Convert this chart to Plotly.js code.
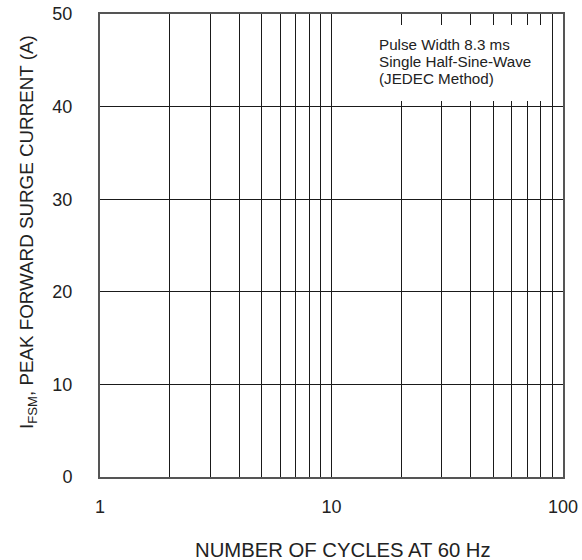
<!DOCTYPE html>
<html><head><meta charset="utf-8">
<script src="https://cdn.plot.ly/plotly-3.0.1.min.js"></script>
<style>html,body{margin:0;padding:0;background:#fff}</style>
</head><body><div id="c" style="width:582px;height:560px"></div>
<script>
const xTickVals = [1,10,100];
const xTickText = ['1','10','100'];
const xMinorVals = [2,3,4,5,6,7,8,9,20,30,40,50,60,70,80,90];
const yTickVals = [0,10,20,30,40,50];
const xRange = [1,100];
const yRange = [0,50];
const noteLines = ['Pulse Width 8.3 ms','Single Half-Sine-Wave','(JEDEC Method)'];
const xTitle = 'NUMBER OF CYCLES AT 60 Hz';
const yTitle = 'I<sub>FSM</sub>, PEAK FORWARD SURGE CURRENT (A)';

const FAM = 'Liberation Sans, Arial, sans-serif';
const INK = '#222';
const L = 100, R = 563, T = 14, B = 477, W = 582, H = 560;
const px = v => (v - L) / (R - L);
const py = v => (B - v) / (B - T);

const noteY = [44, 61, 78];
const annotations = noteLines.map((t, i) => ({
  xref:'paper', yref:'paper', x:px(377), y:py(noteY[i]), xanchor:'left', yanchor:'middle',
  text:t, showarrow:false, font:{size:15.2, color:INK, family:FAM}
}));
annotations.push({xref:'paper', yref:'paper', x:px(28), y:py(232), xanchor:'center', yanchor:'middle',
  textangle:-90, text:yTitle, showarrow:false, font:{size:18.8, color:INK, family:FAM}});
annotations.push({xref:'paper', yref:'paper', x:px(343), y:py(550), xanchor:'center', yanchor:'middle',
  text:xTitle, showarrow:false, font:{size:20.3, color:INK, family:FAM}});

const layout = {
  width:W, height:H,
  margin:{l:L, r:W-R, t:T, b:H-B},
  paper_bgcolor:'#fff', plot_bgcolor:'#fff',
  showlegend:false,
  font:{family:FAM, color:INK},
  xaxis:{type:'log', range:xRange.map(Math.log10), tickmode:'array', tickvals:xTickVals, ticktext:xTickText,
    showgrid:true, gridcolor:'#1a1a1a', gridwidth:1, zeroline:false,
    minor:{tickmode:'array', tickvals:xMinorVals, showgrid:true, gridcolor:'#1a1a1a', gridwidth:1, ticks:''},
    showline:true, mirror:true, linecolor:'#555', linewidth:2,
    ticks:'', ticklabelstandoff:12, tickfont:{size:18, color:INK, family:FAM}},
  yaxis:{range:yRange, tickvals:yTickVals, showgrid:true, gridcolor:'#1a1a1a', gridwidth:1, zeroline:false,
    showline:true, mirror:true, linecolor:'#555', linewidth:2,
    ticks:'', ticklabelstandoff:22, tickfont:{size:18, color:INK, family:FAM}},
  shapes:[{type:'rect', xref:'paper', yref:'paper', x0:px(333), x1:px(543), y0:py(101), y1:py(25),
    fillcolor:'#fff', line:{width:0}, layer:'above'}],
  annotations: annotations
};
Plotly.newPlot('c', [{x:xRange, y:yRange, mode:'none', type:'scatter', hoverinfo:'skip'}], layout, {staticPlot:true, displayModeBar:false});
</script></body></html>
